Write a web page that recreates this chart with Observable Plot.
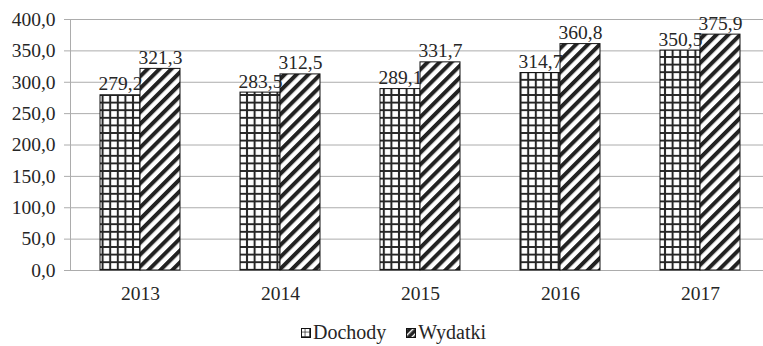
<!DOCTYPE html>
<html>
<head>
<meta charset="utf-8">
<script src="https://cdn.jsdelivr.net/npm/d3@7"></script>
<script src="https://cdn.jsdelivr.net/npm/@observablehq/plot@0.6"></script>
<style>
  html, body { margin: 0; padding: 0; background: #fff; overflow: hidden; }
  #wrap { position: relative; width: 763px; height: 346px; overflow: hidden; }
  #chart svg, #chart svg text { font-family: 'Liberation Serif'; }
  #legend {
    position: absolute; left: 301px; top: 321px;
    display: flex; align-items: center; gap: 20px;
    font-family: 'Liberation Serif'; font-size: 20px; color: #262626; line-height: 22px;
  }
  #legend span { display: inline-flex; align-items: center; gap: 2px; }
  #legend svg { margin-top: 2px; }
</style>
</head>
<body>
<svg width="0" height="0" style="position:absolute">
  <defs>
    <pattern id="kratka" patternUnits="userSpaceOnUse" width="7.6" height="7.6">
      <rect width="7.6" height="7.6" fill="#fff"/>
      <path d="M3.8 0V7.6M0 3.8H7.6" stroke="#262626" stroke-width="2"/>
    </pattern>
    <pattern id="ukos" patternUnits="userSpaceOnUse" width="8.4" height="8.4" patternTransform="rotate(45)">
      <rect width="8.4" height="8.4" fill="#fff"/>
      <rect width="4" height="8.4" fill="#222"/>
    </pattern>
    <pattern id="kratka-mala" patternUnits="userSpaceOnUse" width="4.5" height="4.5">
      <rect width="4.5" height="4.5" fill="#fff"/>
      <path d="M4.5 0V4.5M0 4.5H4.5" stroke="#222" stroke-width="1.4"/>
    </pattern>
    <pattern id="ukos-maly" patternUnits="userSpaceOnUse" width="5" height="5" patternTransform="rotate(45)">
      <rect width="5" height="5" fill="#222"/>
      <rect width="1.4" height="5" fill="#fff"/>
    </pattern>
  </defs>
</svg>
<div id="wrap">
  <div id="chart"></div>
  <div id="legend"></div>
</div>
<script>
// Budżet: dochody i wydatki w latach 2013–2017
const years = ["2013", "2014", "2015", "2016", "2017"];
const dochody = [279.2, 283.5, 289.1, 314.7, 350.5];
const wydatki = [321.3, 312.5, 331.7, 360.8, 375.9];
const yTicks = [0, 50, 100, 150, 200, 250, 300, 350, 400];
const seriesNames = ["Dochody", "Wydatki"];
const seriesFills = ["url(#kratka)", "url(#ukos)"];
const legendFills = ["url(#kratka-mala)", "url(#ukos-maly)"];

const rows = years.map((year, i) => ({year, dochody: dochody[i], wydatki: wydatki[i]}));
const fmt = (d) => d.toFixed(1).replace(".", ",");
const gridColor = "#acacac";
const textColor = "#262626";

const chart = Plot.plot({
  width: 770,
  height: 312,
  marginLeft: 70,
  marginRight: 0,
  marginTop: 19,
  marginBottom: 42,
  style: "font-family: 'Liberation Serif'; font-size: 19.5px; color: #262626; background: #fff; max-width: none;",
  x: {domain: years, padding: 0, label: null},
  y: {domain: [0, 400], label: null},
  marks: [
    Plot.gridY(yTicks, {stroke: gridColor, strokeOpacity: 1}),
    Plot.frame({anchor: "left", stroke: gridColor}),
    Plot.axisY(yTicks, {tickSize: 6, tickPadding: 9, tickFormat: fmt, stroke: gridColor, fill: textColor}),
    Plot.axisX({tickSize: 0, tickPadding: 16, fill: textColor}),
    Plot.barY(rows, {x: "year", y: "dochody", fill: seriesFills[0], stroke: "#111", strokeWidth: 1, insetLeft: 30, insetRight: 70}),
    Plot.barY(rows, {x: "year", y: "wydatki", fill: seriesFills[1], stroke: "#111", strokeWidth: 1, insetLeft: 70, insetRight: 30}),
    Plot.text(rows, {x: "year", y: "dochody", text: (d) => fmt(d.dochody), dx: -20, dy: -5, lineAnchor: "bottom", fill: textColor}),
    Plot.text(rows, {x: "year", y: "wydatki", text: (d) => fmt(d.wydatki), dx: 20, dy: -5, lineAnchor: "bottom", fill: textColor})
  ]
});
document.getElementById("chart").append(chart);

// legenda pod wykresem
const legend = document.getElementById("legend");
seriesNames.forEach((name, i) => {
  const item = document.createElement("span");
  item.innerHTML = `<svg width="10" height="10"><rect x="0.5" y="0.5" width="9" height="9" fill="${legendFills[i]}" stroke="#111" stroke-width="1"/></svg>${name}`;
  legend.append(item);
});
</script>
</body>
</html>
